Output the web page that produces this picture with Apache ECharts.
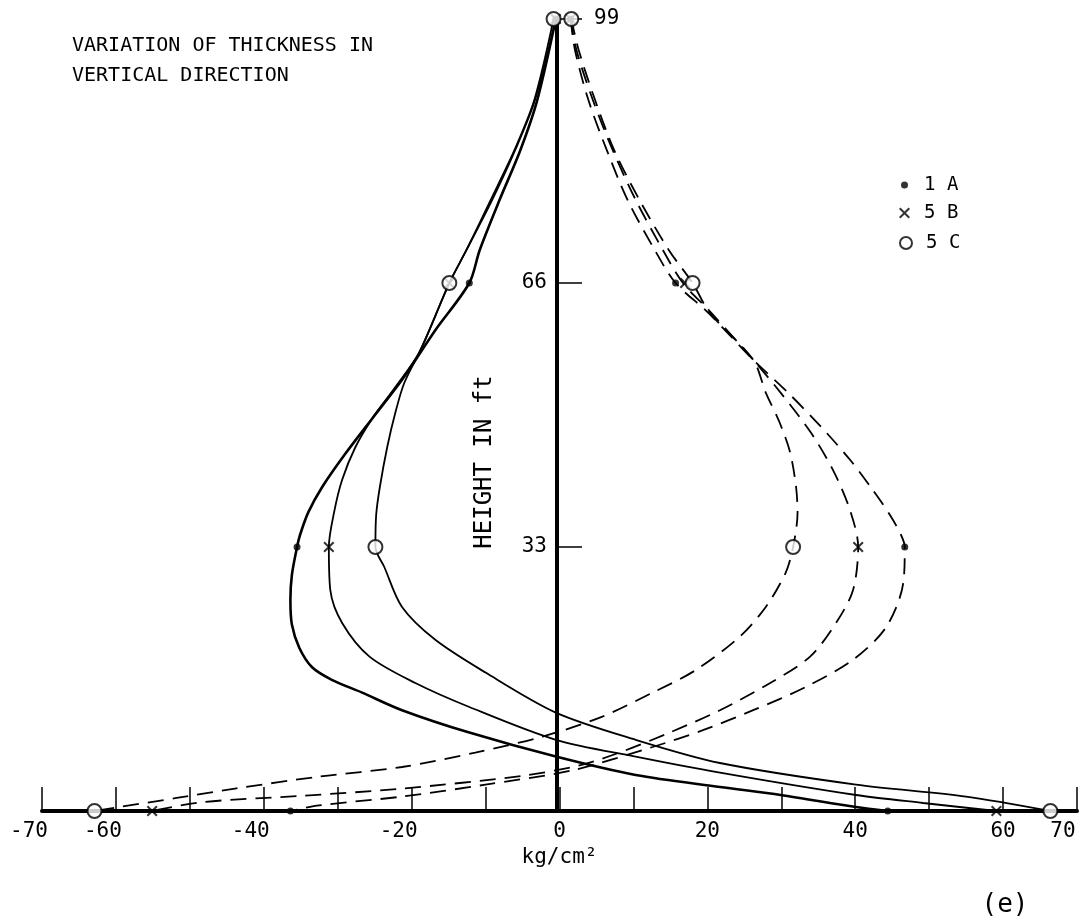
<!DOCTYPE html>
<html><head><meta charset="utf-8">
<script src="https://cdn.jsdelivr.net/npm/echarts@6/dist/echarts.min.js"></script>
<style>html,body{margin:0;padding:0;background:#fff}#c{width:1086px;height:923px}</style>
</head><body><div id="c"></div>
<script>
// tick labels
const xLabelValues = [-70, -60, -40, -20, 0, 20, 40, 60, 70];
const yLabelsLeft = [33, 66];
const yLabelsRight = [99];
const seriesNames = ['1 A', '5 B', '5 C'];

// solid curves  [x (kg/cm2), height (ft)]
const solid1A = [[-0.5,99],[-3.0,88.9],[-5.3,82.6],[-8.1,76.4],[-10.8,70.1],[-12.2,66],[-16.8,60.1],[-21.3,53.9],[-25.3,49.1],[-29.1,44.5],[-32.1,40.5],[-34.0,37.3],[-35.1,34.5],[-35.5,33],[-36.2,29.5],[-36.4,26.4],[-36.2,23.3],[-35.2,20.4],[-33.5,18.0],[-30.8,16.4],[-26.7,14.8],[-21.3,12.6],[-12.2,9.8],[-0.5,6.8],[10.3,4.5],[21.7,3.0],[29.9,2.0],[40.1,0.5],[44.4,0]];
const solid5B = [[-0.5,99],[-3.3,88.9],[-6.0,82.6],[-9.1,76.4],[-12.6,70.1],[-14.9,66],[-19.0,57.3],[-22.2,53.0],[-25.3,49.1],[-27.6,45.5],[-29.4,41.4],[-30.5,37.3],[-31.2,33],[-31.0,27.6],[-29.4,23.5],[-25.7,19.3],[-19.5,16.0],[-12.2,13.0],[-0.5,8.9],[10.3,6.8],[21.7,4.8],[40.1,2.0],[49.2,1.0],[59.1,0]];
const solid5C = [[-0.8,99],[-3.4,88.9],[-6.1,82.6],[-9.3,76.4],[-12.6,70.1],[-14.9,66],[-18.6,58.0],[-21.0,53.5],[-22.2,49.8],[-23.3,45.5],[-24.3,40.5],[-24.8,37.0],[-24.9,33],[-23.7,30.5],[-21.3,25.5],[-16.8,21.4],[-10.0,17.3],[-0.5,12.3],[10.3,8.9],[21.7,6.0],[40.1,3.3],[55.0,1.8],[66.4,0]];

// dashed curves
const dashed1A = [[1.5,99],[2.1,95.1],[3.9,88.9],[6.4,82.6],[9.2,76.4],[12.9,70.1],[15.7,66],[20.1,62.3],[26.2,56.4],[30.9,52.3],[35.4,48.0],[39.3,43.9],[42.4,40.1],[44.7,37.0],[46.2,34.5],[46.7,33],[46.5,28.5],[44.2,23],[39.7,18.9],[33.3,15.5],[26.2,12.6],[19.4,10.1],[12.6,8.0],[1.8,5.1],[-10.0,3.3],[-21.3,1.8],[-32.5,0.7],[-36.4,0]];
const dashed5B = [[1.5,99],[2.3,95.1],[4.5,88.9],[7.2,82.6],[10.3,76.4],[14.0,70.1],[16.7,66],[20.5,62.3],[26.2,56.4],[29.9,52.3],[34.0,47.3],[37.0,42.6],[39.3,37.6],[40.4,33],[39.7,27.6],[37.4,23.5],[33.9,19.3],[28.5,16.0],[21.7,12.6],[14.9,9.8],[8.1,7.3],[2.7,5.7],[-5.0,4.4],[-21.3,2.8],[-34.8,1.9],[-48.4,1.1],[-55.1,0]];
const dashed5C = [[1.6,99],[2.6,95.1],[4.8,88.9],[7.4,82.6],[10.8,76.4],[14.8,70.1],[18.0,66],[20.3,62.3],[26.2,56.4],[27.9,52.3],[29.8,48.5],[31.2,44.8],[32.0,40.5],[32.2,37.3],[31.6,33],[30.6,29.8],[27.9,25.5],[24.4,21.8],[18.4,17.6],[12.6,14.8],[5.8,11.8],[-2.3,9.3],[-11.4,7.3],[-21.3,5.5],[-32.5,4.3],[-43.9,2.8],[-52.0,1.6],[-62.9,0]];

// plotted measurement points
const marks1A = [[-35.5,33],[-12.2,66],[-0.5,99],[44.4,0],[46.7,33],[15.7,66],[1.5,99],[-36.4,0]];
const marks5B = [[-31.2,33],[-14.9,66],[-0.5,99],[59.1,0],[40.4,33],[17.0,66],[1.5,99],[-55.1,0]];
const marks5C = [[-24.9,33],[-14.9,66],[-0.8,99],[66.4,0],[31.6,33],[18.0,66],[1.6,99],[-62.9,0]];

const MONO = 'DejaVu Sans Mono';
const xSym = 'path://M0,1.3L1.3,0L5,3.7L8.7,0L10,1.3L6.3,5L10,8.7L8.7,10L5,6.3L1.3,10L0,8.7L3.7,5Z';

function solid(data, w) {
  return {type:'line', data, smooth:0.3, symbol:'none', silent:true, z:2,
    lineStyle:{color:'#000', width:w, type:'solid'}};
}
function dashed(data) {
  return {type:'line', data, smooth:0.3, symbol:'none', silent:true, z:2,
    lineStyle:{color:'#000', width:1.8, type:[16,9]}};
}

const chart = echarts.init(document.getElementById('c'));
chart.setOption({
  animation:false,
  backgroundColor:'#fff',
  title:{text:'VARIATION OF THICKNESS IN\nVERTICAL DIRECTION', left:72, top:31, padding:0,
    textStyle:{fontFamily:MONO, fontSize:20, fontWeight:'normal', lineHeight:30, color:'#000'}},
  legend:[
    {data:[seriesNames[0]], orient:'vertical', left:901, top:175, padding:0, itemWidth:7, itemHeight:7,
      textStyle:{fontFamily:MONO, fontSize:19, color:'#000', lineHeight:20, padding:[0,0,0,11]}},
    {data:[seriesNames[1]], orient:'vertical', left:899, top:203, padding:0, itemWidth:11, itemHeight:11,
      textStyle:{fontFamily:MONO, fontSize:19, color:'#000', lineHeight:20, padding:[0,0,0,9]}},
    {data:[seriesNames[2]], orient:'vertical', left:899, top:233, padding:0, itemWidth:12, itemHeight:12,
      textStyle:{fontFamily:MONO, fontSize:19, color:'#000', lineHeight:20, padding:[0,0,0,9]}}
  ],
  grid:{left:42, right:9, top:19, bottom:112},
  xAxis:{type:'value', min:-70, max:70, interval:10,
    name:'kg/cm²', nameLocation:'middle', nameGap:36,
    nameTextStyle:{fontFamily:MONO, fontSize:21, color:'#000'},
    axisLine:{onZero:false, lineStyle:{color:'#000', width:4}},
    axisTick:{inside:true, length:24, lineStyle:{color:'#000', width:1.5}},
    splitLine:{show:false},
    axisLabel:{showMinLabel:true, showMaxLabel:true, margin:10, fontFamily:MONO, fontSize:21, color:'#000',
      formatter:v => {
        if (xLabelValues.indexOf(v) < 0) return '';
        if (v < 0) return '{n|' + v + '}';
        if (v === 70) return '{e|' + v + '}';
        return String(v);
      },
      rich:{
        n:{fontFamily:MONO, fontSize:21, color:'#000', padding:[0,26,0,0]},
        e:{fontFamily:MONO, fontSize:21, color:'#000', padding:[0,28,0,0]}
      }}},
  yAxis:[
    {type:'value', min:0, max:99, interval:33, position:'left', offset:-515,
      axisLine:{onZero:false, lineStyle:{color:'#000', width:4}},
      axisTick:{inside:true, length:25, lineStyle:{color:'#000', width:1.5}},
      splitLine:{show:false},
      axisLabel:{margin:10, fontFamily:MONO, fontSize:21, color:'#000',
        formatter:v => yLabelsLeft.indexOf(v) >= 0 ? String(v) : ''}},
    {type:'value', min:0, max:99, interval:33, position:'right', offset:-520,
      axisLine:{show:false, onZero:false}, axisTick:{show:false}, splitLine:{show:false},
      axisLabel:{margin:37, fontFamily:MONO, fontSize:21, color:'#000',
        formatter:v => yLabelsRight.indexOf(v) >= 0 ? String(v) : ''}}
  ],
  graphic:[
    {type:'text', x:485, y:462, rotation:Math.PI/2,
      style:{text:'HEIGHT IN ft', font:'24px "DejaVu Sans Mono"', fill:'#000', align:'center', verticalAlign:'middle', textAlign:'center', textVerticalAlign:'middle'}},
    {type:'text', x:1005, y:905,
      style:{text:'(e)', font:'26px "DejaVu Sans Mono"', fill:'#000', align:'center', verticalAlign:'middle', textAlign:'center', textVerticalAlign:'middle'}}
  ],
  series:[
    solid(solid1A, 2.6), solid(solid5B, 1.8), solid(solid5C, 1.8),
    dashed(dashed1A), dashed(dashed5B), dashed(dashed5C),
    {type:'scatter', name:seriesNames[0], data:marks1A, symbol:'circle', symbolSize:7, z:4,
      itemStyle:{color:'#000'}},
    {type:'scatter', name:seriesNames[1], data:marks5B, symbol:xSym, symbolSize:11, z:4,
      itemStyle:{color:'#000'}},
    {type:'scatter', name:seriesNames[2], data:marks5C, symbol:'circle', symbolSize:14, z:5,
      itemStyle:{color:'#fff', borderColor:'#000', borderWidth:2}}
  ]
});
</script></body></html>
